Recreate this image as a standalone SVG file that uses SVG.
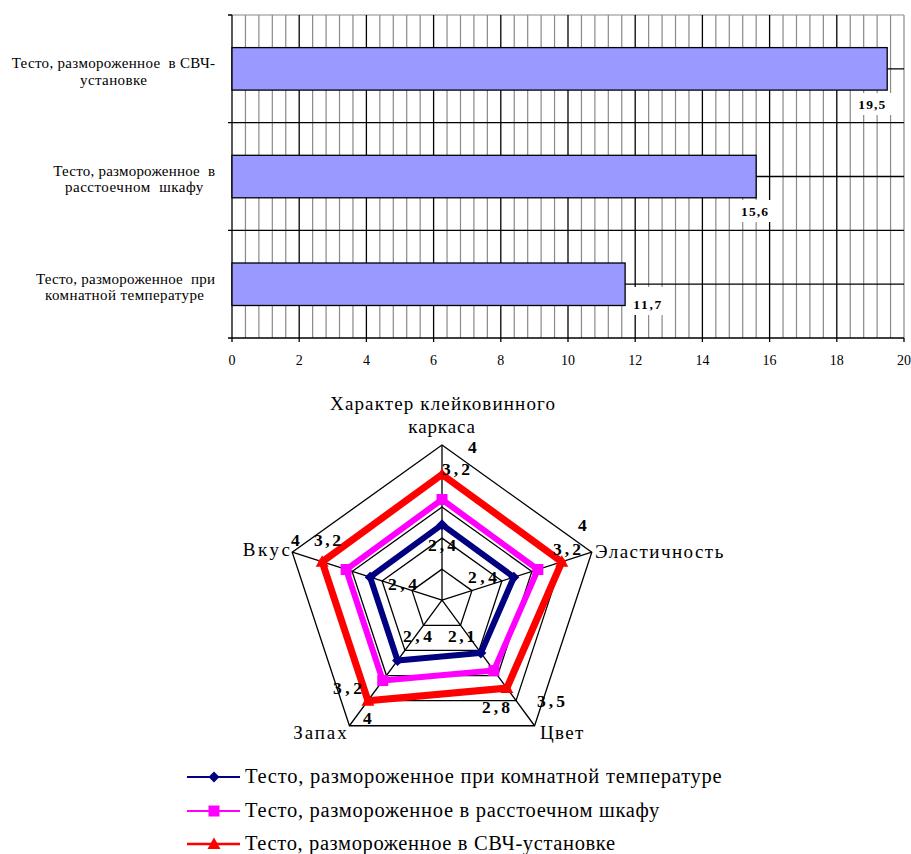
<svg xmlns="http://www.w3.org/2000/svg" xmlns:xlink="http://www.w3.org/1999/xlink" width="911" height="854" viewBox="0 0 911 854">
<style>
.minor{stroke:#8a8a8a;stroke-width:1.2;fill:none}
.major{stroke:#000;stroke-width:1.3;fill:none}
.bar{fill:#9999FF;stroke:#000;stroke-width:1.3}
.box{fill:#fff}
.grid{stroke:#000;stroke-width:1.3;fill:none}
.sBlue{stroke:#000080;stroke-width:6;fill:none;stroke-linejoin:miter}
.sMag{stroke:#FF00FF;stroke-width:6;fill:none;stroke-linejoin:miter}
.sRed{stroke:#FF0000;stroke-width:7;fill:none;stroke-linejoin:miter}
</style>
<defs>
<polygon id="dia" points="0,-5.5 5.5,0 0,5.5 -5.5,0" fill="#000080"/>
<rect id="sq" x="-5.5" y="-5.5" width="11" height="11" fill="#FF00FF"/>
<polygon id="tri" points="0,-6.5 6.5,5 -6.5,5" fill="#FF0000"/>
</defs>
<rect width="911" height="854" fill="#fff"/>

<g id="bar-chart">
<g id="bar-grid">
<path class="minor" d="M245.44 15V338M258.88 15V338M272.32 15V338M285.76 15V338M312.64 15V338M326.08 15V338M339.52 15V338M352.96 15V338M379.84 15V338M393.28 15V338M406.72 15V338M420.16 15V338M447.04 15V338M460.48 15V338M473.92 15V338M487.36 15V338M514.24 15V338M527.68 15V338M541.12 15V338M554.56 15V338M581.44 15V338M594.88 15V338M608.32 15V338M621.76 15V338M648.64 15V338M662.08 15V338M675.52 15V338M688.96 15V338M715.84 15V338M729.28 15V338M742.72 15V338M756.16 15V338M783.04 15V338M796.48 15V338M809.92 15V338M823.36 15V338M850.24 15V338M863.68 15V338M877.12 15V338M890.56 15V338M904 15V338M232 15H904"/>
<path class="major" d="M299.2 15V342M366.4 15V342M433.6 15V342M500.8 15V342M568 15V342M635.2 15V342M702.4 15V342M769.6 15V342M836.8 15V342M904 338V342M232 342V15"/>
<path class="major" d="M232 68.8H904M228 122.7H904M232 176.5H904M228 230.3H904M232 284.2H904M228 338H904M228 15H232"/>
</g>
<g id="bars">
<rect id="bar-svch" class="bar" x="232" y="47.6" width="655.2" height="42.5"/>
<rect id="bar-shkaf" class="bar" x="232" y="155.3" width="524.16" height="42.5"/>
<rect id="bar-room" class="bar" x="232" y="263" width="393.12" height="42.5"/>
</g>
<g id="bar-values">
<rect class="box" x="855" y="93" width="38" height="22"/>
<rect class="box" x="738" y="200" width="34" height="22"/>
<rect class="box" x="628" y="287" width="38" height="28"/>
<text style="font-family:'Liberation Serif';font-size:13.5px;font-weight:bold" x="858.3" y="109" textLength="27" lengthAdjust="spacing">19,5</text>
<text style="font-family:'Liberation Serif';font-size:13.5px;font-weight:bold" x="741" y="216" textLength="27" lengthAdjust="spacing">15,6</text>
<text style="font-family:'Liberation Serif';font-size:13.5px;font-weight:bold" x="633.3" y="309" textLength="28" lengthAdjust="spacing">11,7</text>
</g>
<g id="bar-ticks">
<text style="font-family:'Liberation Serif';font-size:14px;text-anchor:middle" x="232" y="365">0</text>
<text style="font-family:'Liberation Serif';font-size:14px;text-anchor:middle" x="299.2" y="365">2</text>
<text style="font-family:'Liberation Serif';font-size:14px;text-anchor:middle" x="366.4" y="365">4</text>
<text style="font-family:'Liberation Serif';font-size:14px;text-anchor:middle" x="433.6" y="365">6</text>
<text style="font-family:'Liberation Serif';font-size:14px;text-anchor:middle" x="500.8" y="365">8</text>
<text style="font-family:'Liberation Serif';font-size:14px;text-anchor:middle" x="568" y="365">10</text>
<text style="font-family:'Liberation Serif';font-size:14px;text-anchor:middle" x="635.2" y="365">12</text>
<text style="font-family:'Liberation Serif';font-size:14px;text-anchor:middle" x="702.4" y="365">14</text>
<text style="font-family:'Liberation Serif';font-size:14px;text-anchor:middle" x="769.6" y="365">16</text>
<text style="font-family:'Liberation Serif';font-size:14px;text-anchor:middle" x="836.8" y="365">18</text>
<text style="font-family:'Liberation Serif';font-size:14px;text-anchor:middle" x="904" y="365">20</text>
</g>
<g id="bar-categories">
<text style="font-family:'Liberation Serif';font-size:15px;white-space:pre" x="11.7" y="68.3" textLength="203.3" lengthAdjust="spacing">Тесто, размороженное  в СВЧ-</text>
<text style="font-family:'Liberation Serif';font-size:15px" x="80" y="85" textLength="67" lengthAdjust="spacing">установке</text>
<text style="font-family:'Liberation Serif';font-size:15px;white-space:pre" x="53.3" y="175.7" textLength="161.7" lengthAdjust="spacing">Тесто, размороженное  в</text>
<text style="font-family:'Liberation Serif';font-size:15px;white-space:pre" x="65" y="192.4" textLength="138.3" lengthAdjust="spacing">расстоечном  шкафу</text>
<text style="font-family:'Liberation Serif';font-size:15px;white-space:pre" x="36" y="283.5" textLength="179" lengthAdjust="spacing">Тесто, размороженное  при</text>
<text style="font-family:'Liberation Serif';font-size:15px" x="45" y="300.2" textLength="159" lengthAdjust="spacing">комнатной температуре</text>
</g>
</g>

<g id="radar-chart">
<g id="radar-grid">
<polygon class="grid" points="442,569.16 471.96,590.61 460.52,625.31 423.49,625.31 412.04,590.61"/>
<polygon class="grid" points="442,538.12 501.92,581.02 479.03,650.42 404.97,650.42 382.08,581.02"/>
<polygon class="grid" points="442,507.08 531.87,571.42 497.55,675.54 386.46,675.54 352.13,571.42"/>
<polygon class="grid" points="442,476.04 561.83,561.83 516.06,700.65 367.94,700.65 322.17,561.83"/>
<polygon class="grid" points="442,445 591.79,552.24 534.58,725.76 349.43,725.76 292.21,552.24"/>
<path class="grid" d="M442 600.2L442 445M442 600.2L591.79 552.24M442 600.2L534.58 725.76M442 600.2L349.43 725.76M442 600.2L292.21 552.24"/>
</g>
<g id="series-room">
<polygon class="sBlue" points="442,524.7 513.9,577.18 480.88,652.94 397.56,660.47 370.1,577.18"/>
<use xlink:href="#dia" x="442" y="524.7"/>
<use xlink:href="#dia" x="513.9" y="577.18"/>
<use xlink:href="#dia" x="480.88" y="652.94"/>
<use xlink:href="#dia" x="397.56" y="660.47"/>
<use xlink:href="#dia" x="370.1" y="577.18"/>
</g>
<g id="series-shkaf">
<polygon class="sMag" points="442,499.5 537.87,569.51 493.84,670.51 382.75,680.56 346.13,569.51"/>
<use xlink:href="#sq" x="442" y="499.5"/>
<use xlink:href="#sq" x="537.87" y="569.51"/>
<use xlink:href="#sq" x="493.84" y="670.51"/>
<use xlink:href="#sq" x="382.75" y="680.56"/>
<use xlink:href="#sq" x="346.13" y="569.51"/>
</g>
<g id="series-svch">
<polygon class="sRed" points="442,474.5 561.83,561.83 506.8,688.09 367.94,700.65 322.17,561.83"/>
<use xlink:href="#tri" x="442" y="474.5"/>
<use xlink:href="#tri" x="561.83" y="561.83"/>
<use xlink:href="#tri" x="506.8" y="688.09"/>
<use xlink:href="#tri" x="367.94" y="700.65"/>
<use xlink:href="#tri" x="322.17" y="561.83"/>
</g>
<g id="radar-values">
<text style="font-family:'Liberation Serif';font-size:17.5px;font-weight:bold" x="468" y="453">4</text>
<text style="font-family:'Liberation Serif';font-size:17.5px;font-weight:bold" x="442" y="475" textLength="28" lengthAdjust="spacing">3,2</text>
<text style="font-family:'Liberation Serif';font-size:17.5px;font-weight:bold" x="428" y="551" textLength="28" lengthAdjust="spacing">2,4</text>
<text style="font-family:'Liberation Serif';font-size:17.5px;font-weight:bold" x="578" y="531">4</text>
<text style="font-family:'Liberation Serif';font-size:17.5px;font-weight:bold" x="553" y="555" textLength="28" lengthAdjust="spacing">3,2</text>
<text style="font-family:'Liberation Serif';font-size:17.5px;font-weight:bold" x="468" y="583" textLength="29" lengthAdjust="spacing">2,4</text>
<text style="font-family:'Liberation Serif';font-size:17.5px;font-weight:bold" x="537" y="707" textLength="28" lengthAdjust="spacing">3,5</text>
<text style="font-family:'Liberation Serif';font-size:17.5px;font-weight:bold" x="482" y="713" textLength="28" lengthAdjust="spacing">2,8</text>
<text style="font-family:'Liberation Serif';font-size:17.5px;font-weight:bold" x="448" y="642" textLength="27" lengthAdjust="spacing">2,1</text>
<text style="font-family:'Liberation Serif';font-size:17.5px;font-weight:bold" x="363" y="724">4</text>
<text style="font-family:'Liberation Serif';font-size:17.5px;font-weight:bold" x="333" y="694" textLength="29" lengthAdjust="spacing">3,2</text>
<text style="font-family:'Liberation Serif';font-size:17.5px;font-weight:bold" x="403" y="642" textLength="29" lengthAdjust="spacing">2,4</text>
<text style="font-family:'Liberation Serif';font-size:17.5px;font-weight:bold" x="291" y="546">4</text>
<text style="font-family:'Liberation Serif';font-size:17.5px;font-weight:bold" x="314" y="546" textLength="27" lengthAdjust="spacing">3,2</text>
<text style="font-family:'Liberation Serif';font-size:17.5px;font-weight:bold" x="388" y="590" textLength="29" lengthAdjust="spacing">2,4</text>
</g>
<g id="radar-axis-labels">
<text style="font-family:'Liberation Serif';font-size:19px" x="330" y="410" textLength="225" lengthAdjust="spacing">Характер клейковинного</text>
<text style="font-family:'Liberation Serif';font-size:19px" x="408.3" y="433" textLength="66.7" lengthAdjust="spacing">каркаса</text>
<text style="font-family:'Liberation Serif';font-size:19px" x="595" y="558.3" textLength="128.3" lengthAdjust="spacing">Эластичность</text>
<text style="font-family:'Liberation Serif';font-size:19px" x="242.7" y="555.7" textLength="47.3" lengthAdjust="spacing">Вкус</text>
<text style="font-family:'Liberation Serif';font-size:19px" x="293.3" y="739.3" textLength="53.4" lengthAdjust="spacing">Запах</text>
<text style="font-family:'Liberation Serif';font-size:19px" x="540" y="739.3" textLength="43.3" lengthAdjust="spacing">Цвет</text>
</g>
</g>

<g id="legend">
<g id="legend-room">
<line x1="187" y1="777" x2="240" y2="777" stroke="#000080" stroke-width="2.2"/>
<use xlink:href="#dia" x="214" y="777"/>
<text style="font-family:'Liberation Serif';font-size:20.5px" x="245" y="783" textLength="476.7" lengthAdjust="spacing">Тесто, размороженное при комнатной температуре</text>
</g>
<g id="legend-shkaf">
<line x1="187" y1="811" x2="240" y2="811" stroke="#FF00FF" stroke-width="2.2"/>
<use xlink:href="#sq" x="214" y="811"/>
<text style="font-family:'Liberation Serif';font-size:20.5px" x="245" y="816.5" textLength="414.3" lengthAdjust="spacing">Тесто, размороженное в расстоечном шкафу</text>
</g>
<g id="legend-svch">
<line x1="187" y1="844" x2="240" y2="844" stroke="#FF0000" stroke-width="2.5"/>
<use xlink:href="#tri" x="214" y="844"/>
<text style="font-family:'Liberation Serif';font-size:20.5px" x="245" y="850" textLength="370" lengthAdjust="spacing">Тесто, размороженное в СВЧ-установке</text>
</g>
</g>
</svg>
